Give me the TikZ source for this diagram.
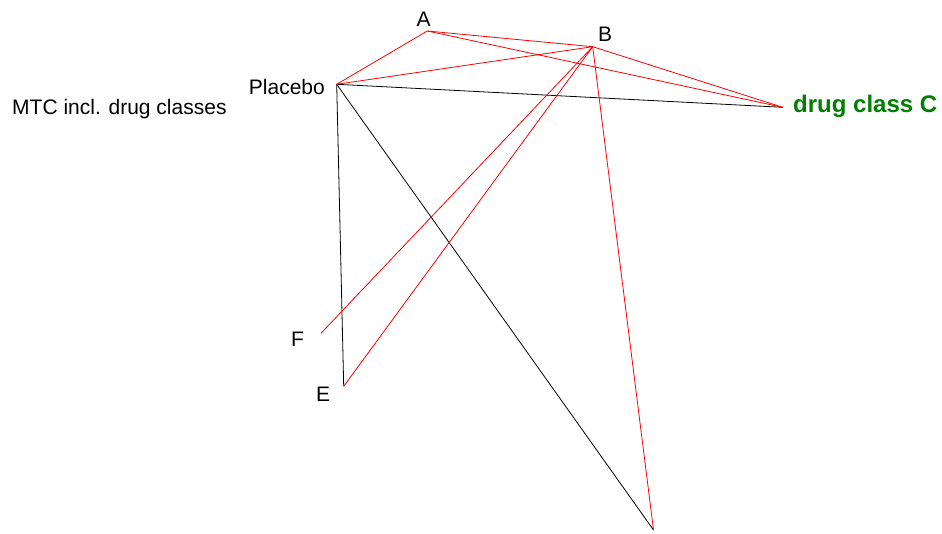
\documentclass[tikz,border=0pt]{standalone}
\usepackage{fontspec}
\setmainfont{Liberation Sans}
\definecolor{dgreen}{RGB}{0,128,0}
\begin{document}
\begin{tikzpicture}[x=1pt,y=-1pt,
  lbl/.style={inner sep=0pt,font=\fontsize{21}{25}\selectfont},
  redge/.style={draw=red,line width=0.8pt},
  bedge/.style={draw=black,line width=0.8pt}]
\useasboundingbox (0,0) rectangle (942,534);
\coordinate (A) at (427.3,31);
\coordinate (B) at (592.7,46.7);
\coordinate (P) at (336.7,84.3);
\coordinate (C) at (782.7,107.3);
\coordinate (F) at (321,333.3);
\coordinate (E) at (343.7,386.3);
\coordinate (G) at (653.5,530);
\node[lbl,anchor=base] (lA) at (423.5,26.7) {A};
\node[lbl,anchor=base] (lB) at (605,41.7) {B};
\node[lbl,anchor=base east] (lP) at (325,95) {Placebo};
\node[lbl,anchor=base west,font=\fontsize{24}{28}\selectfont\bfseries,text=dgreen] (lC) at (793,112.7) {drug class C};
\node[lbl,anchor=base west] (lM) at (12,115) {MTC incl. drug classes};
\node[lbl,anchor=base] (lF) at (297.5,346.7) {F};
\node[lbl,anchor=base] (lE) at (323,401) {E};
\draw[bedge] (P) -- (C);
\draw[bedge] (P) -- (E);
\draw[bedge] (P) -- (G);
\draw[redge] (A) -- (P);
\draw[redge] (A) -- (B);
\draw[redge] (A) -- (C);
\draw[redge] (P) -- (B);
\draw[redge] (B) -- (C);
\draw[redge] (B) -- (F);
\draw[redge] (B) -- (E);
\draw[redge] (B) -- (G);
\end{tikzpicture}
\end{document}
